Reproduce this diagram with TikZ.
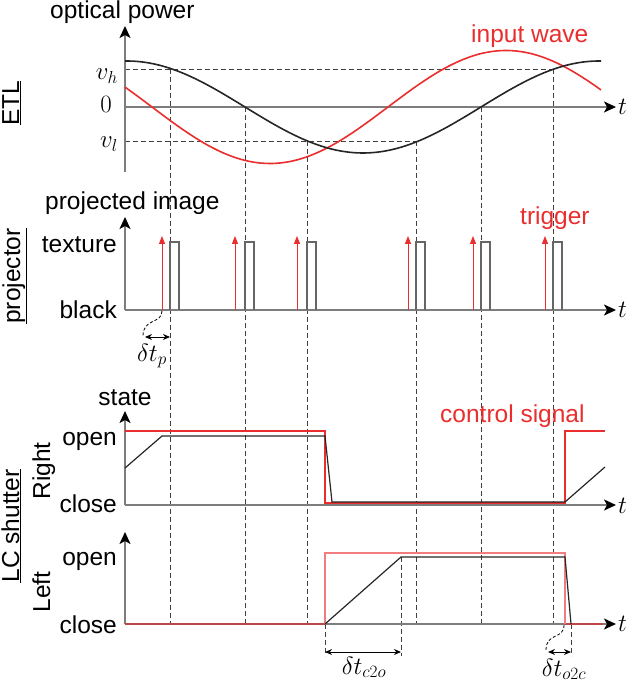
\documentclass[tikz,border=0pt]{standalone}
\usepackage[no-math]{fontspec}
\setmainfont{Liberation Sans}
\usetikzlibrary{arrows.meta}
\definecolor{sig}{RGB}{234,45,45}
\definecolor{sigl}{RGB}{242,125,125}
\definecolor{sigd}{RGB}{190,70,70}
\definecolor{axg}{RGB}{125,125,125}
\tikzset{
  lbl/.style={font=\fontsize{24.5}{28}\selectfont, inner sep=0pt},
  mlbl/.style={font=\fontsize{26}{30}\selectfont, inner sep=0pt},
  axis/.style={axg, line width=1.6pt, -{Stealth[color=black,length=12pt,width=11pt,inset=3pt]}},
  guide/.style={black!75, line width=0.9pt, dash pattern=on 5pt off 3pt},
  curve/.style={line width=1.6pt},
  pulse/.style={black!60, line width=1.3pt},
  trig/.style={sig, line width=1pt, -{Triangle[length=8pt,width=6pt]}},
  dimarrow/.style={black, line width=1pt, {Stealth[length=7pt,width=6pt]}-{Stealth[length=7pt,width=6pt]}},
  leader/.style={black, line width=0.8pt, dash pattern=on 3pt off 2pt},
  state/.style={black!85, line width=1.2pt},
}
\begin{document}
\begin{tikzpicture}[x=1pt,y=-1pt]
\useasboundingbox (0,0) rectangle (634,684);

% ---- guide (dashed) lines
\coordinate (g1t) at (170,69);  \coordinate (g1b) at (170,624);
\coordinate (g2t) at (245,107); \coordinate (g2b) at (245,624);
\coordinate (g3t) at (307,141); \coordinate (g3b) at (307,624);
\coordinate (g4t) at (416,141); \coordinate (g4b) at (416,624);
\coordinate (g5t) at (481,107); \coordinate (g5b) at (481,624);
\coordinate (g6t) at (553,69);  \coordinate (g6b) at (553,624);
\coordinate (vhL) at (125,69);  \coordinate (vlL) at (125,141);
\draw[guide] (vhL) -- (g6t);
\draw[guide] (vlL) -- (g4t);
\foreach \i in {1,...,6} { \draw[guide] (g\i t) -- (g\i b); }
\coordinate (c2oA) at (325,624); \coordinate (c2oAb) at (325,656);
\coordinate (c2oB) at (401,557); \coordinate (c2oBb) at (401,656);
\coordinate (o2cB) at (571,624); \coordinate (o2cBb) at (571,656);
\draw[guide] (c2oA) -- (c2oAb);
\draw[guide] (c2oB) -- (c2oBb);
\draw[guide] (o2cB) -- (o2cBb);

% ---- ETL panel
\draw[axis] (125,172) -- (125,26);
\draw[axis] (125,107) -- (616,107);
\draw[curve, sig] plot[domain=125:601, samples=120, smooth] (\x, {107+56.5*cos(0.762712*(\x-270))});
\draw[curve, black!85] plot[domain=125:601, samples=120, smooth] (\x, {107-46*cos(0.762712*(\x-127))});
\node[lbl, anchor=base west] (op) at (50,19) {optical power};
\node[lbl, sig, anchor=base west] (iw) at (471,43) {input wave};
\node[mlbl, anchor=base east] (vh) at (118,80) {$v_h$};
\node[mlbl, anchor=base east] (zero) at (112,113) {$0$};
\node[mlbl, anchor=base east] (vl) at (118,148) {$v_l$};
\node[mlbl, anchor=base west] (t1) at (618,115) {$t$};
\node[lbl, rotate=90, anchor=base] (etl) at (19,103) {\underline{ETL}};

% ---- projector panel
\draw[axis] (125,310) -- (125,217);
\draw[axis] (125,310) -- (616,310);
\foreach \p in {170,245,307,416,481,553} {
  \draw[pulse] (\p,310) -- (\p,242) -- (\p+9,242) -- (\p+9,310);
}
\foreach \q in {162,235,297,408,473,545} {
  \draw[trig] (\q,310) -- (\q,236);
}
\node[lbl, anchor=base west] (pimg) at (45,210) {projected image};
\node[lbl, anchor=base east] (tex) at (117,252) {texture};
\node[lbl, anchor=base east] (blk) at (117,318) {black};
\node[lbl, sig, anchor=base west] (trg) at (520,225) {trigger};
\node[mlbl, anchor=base west] (t2) at (618,317) {$t$};
\node[lbl, rotate=90, anchor=base] (proj) at (20,276) {\underline{projector}};
\coordinate (tp0) at (162,311);
\coordinate (tp1) at (143,336);
\coordinate (tpa) at (145,337);
\coordinate (tpb) at (170,337);
\draw[leader] (tp0) .. controls (162,324) and (143,318) .. (tp1);
\draw[dimarrow] (tpa) -- (tpb);
\node[mlbl, anchor=base] (dtp) at (152,361) {$\delta t_p$};

% ---- Right shutter
\draw[axis] (125,505) -- (125,411);
\draw[axis] (125,505) -- (616,505);
\draw[sig, line width=1.2pt] (125,431) -- (325,431) -- (325,503) -- (565,503) -- (565,431) -- (605,431);
\draw[state] (125,468) -- (162,436) -- (325,436) -- (332,502) -- (565,502) -- (605,467);
\node[lbl, anchor=base] (st) at (125,405) {state};
\node[lbl, anchor=base east] (ro) at (117,445) {open};
\node[lbl, anchor=base east] (rc) at (117,512) {close};
\node[lbl, sig, anchor=base west] (cs) at (440,422) {control signal};
\node[mlbl, anchor=base west] (t3) at (618,513) {$t$};
\node[lbl, rotate=90, anchor=base] (right) at (50,471) {Right};

% ---- Left shutter
\draw[axis] (125,624) -- (125,532);
\draw[axis] (125,624) -- (616,624);
\draw[sigd, line width=1.6pt] (125,624) -- (325,624);
\draw[sigd, line width=1.6pt] (565,624) -- (603,624);
\draw[sigl, line width=1.2pt] (325,624) -- (325,553) -- (565,553) -- (565,624);
\draw[state] (325,624) -- (401,557) -- (565,557) -- (571,624);
\node[lbl, anchor=base east] (lo) at (117,565) {open};
\node[lbl, anchor=base east] (lc) at (117,633) {close};
\node[mlbl, anchor=base west] (t4) at (618,631) {$t$};
\node[lbl, rotate=90, anchor=base] (left) at (50,592) {Left};
\node[lbl, rotate=90, anchor=base] (lcs) at (19,526) {\underline{LC shutter}};

\draw[dimarrow] (325,652) -- (401,652);
\node[mlbl, anchor=base] (dc2o) at (364,674) {$\delta t_{c2o}$};
\coordinate (oc0) at (564,625);
\coordinate (oc1) at (546,650);
\draw[leader] (oc0) .. controls (564,640) and (546,632) .. (oc1);
\draw[dimarrow] (548,652) -- (571,652);
\node[mlbl, anchor=base] (do2c) at (564,676) {$\delta t_{o2c}$};
\end{tikzpicture}
\end{document}
